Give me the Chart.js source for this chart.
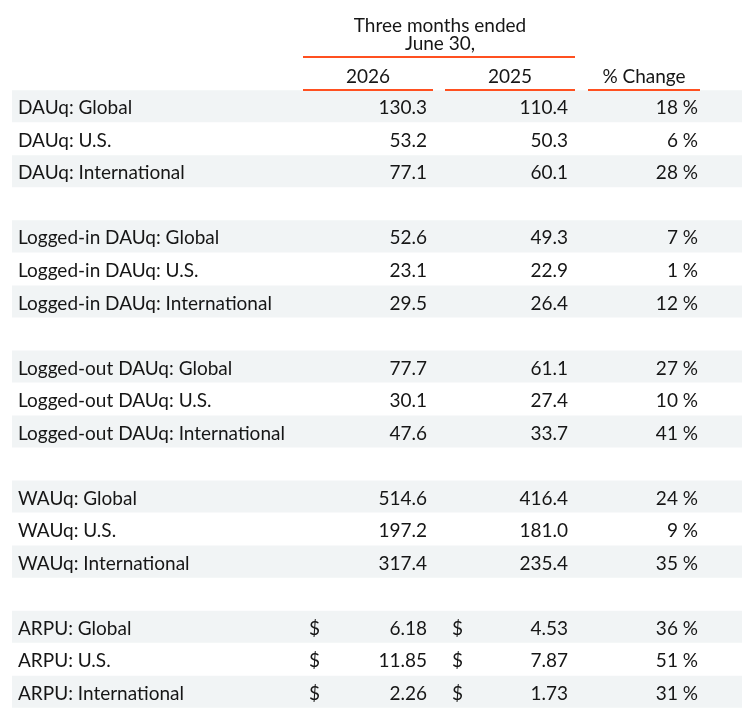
<!DOCTYPE html>
<html>
<head>
<meta charset="utf-8">
<script src="https://cdn.jsdelivr.net/npm/chart.js@4/dist/chart.umd.min.js"></script>
<style>
  html, body { margin: 0; padding: 0; background: #fff; }
  #wrap { position: relative; width: 742px; height: 725px; }
</style>
</head>
<body>
<div id="wrap"><canvas id="metrics_table"></canvas></div>
<script>
// rows of the table, blank strings are the spacer rows between groups
const rowLabels = [
  'DAUq: Global', 'DAUq: U.S.', 'DAUq: International', '',
  'Logged-in DAUq: Global', 'Logged-in DAUq: U.S.', 'Logged-in DAUq: International', '',
  'Logged-out DAUq: Global', 'Logged-out DAUq: U.S.', 'Logged-out DAUq: International', '',
  'WAUq: Global', 'WAUq: U.S.', 'WAUq: International', '',
  'ARPU: Global', 'ARPU: U.S.', 'ARPU: International'
]
const values2026 = [130.3, 53.2, 77.1, null, 52.6, 23.1, 29.5, null, 77.7, 30.1, 47.6, null, 514.6, 197.2, 317.4, null, 6.18, 11.85, 2.26]
const values2025 = [110.4, 50.3, 60.1, null, 49.3, 22.9, 26.4, null, 61.1, 27.4, 33.7, null, 416.4, 181.0, 235.4, null, 4.53, 7.87, 1.73]
const pctChange = [18, 6, 28, null, 7, 1, 12, null, 27, 10, 41, null, 24, 9, 35, null, 36, 51, 31]
const dollarRows = ['ARPU: Global', 'ARPU: U.S.', 'ARPU: International']
const columnHeaders = ['2026', '2025', '% Change']
const periodHeader = ['Three months ended', 'June 30,']

const FONT = '"Lato", "Noto Sans", sans-serif'
const INK = '#161616'
const ORANGE = '#ff5020'
const BAND = '#f1f4f5'

// the x scale runs 0..742 so columns are placed on it
const COL = {
  label: 18, dollar1: 309, val1: 427, dollar2: 452, val2: 568, pct: 698,
  line1: [303, 433], line2: [445, 575], line3: [588, 700], period: [303, 575]
}

// shaded rows: Global and International of every group
const bandData = rowLabels.map(function (l) {
  return (/Global|International/).test(l) ? [12, 742] : null
})

function fmt(v, label) {
  if (v === null) return ''
  return dollarRows.indexOf(label) >= 0 ? v.toFixed(2) : v.toFixed(1)
}

const tablePlugin = {
  id: 'tableText',
  afterDatasetsDraw(chart) {
    const ctx = chart.ctx
    const x = chart.scales.x
    const y = chart.scales.y
    const px = function (v) { return x.getPixelForValue(v) }
    ctx.save()
    ctx.fillStyle = INK
    ctx.font = '19px ' + FONT
    ctx.textBaseline = 'middle'

    rowLabels.forEach(function (label, i) {
      if (!label) return
      const yy = y.getPixelForValue(i) + 2
      ctx.textAlign = 'left'
      ctx.fillText(label, px(COL.label), yy)
      if (dollarRows.indexOf(label) >= 0) {
        ctx.fillText('$', px(COL.dollar1), yy)
        ctx.fillText('$', px(COL.dollar2), yy)
      }
      ctx.textAlign = 'right'
      ctx.fillText(fmt(values2026[i], label), px(COL.val1), yy)
      ctx.fillText(fmt(values2025[i], label), px(COL.val2), yy)
      ctx.fillText(pctChange[i] + ' %', px(COL.pct), yy)
    })

    // header
    const top = chart.chartArea.top
    ctx.textAlign = 'center'
    const pc = (px(COL.period[0]) + px(COL.period[1])) / 2 + 1
    ctx.fillText(periodHeader[0], pc, top - 64)
    ctx.fillText(periodHeader[1], pc, top - 46)
    const lines = [COL.line1, COL.line2, COL.line3]
    lines.forEach(function (ln, k) {
      ctx.fillText(columnHeaders[k], (px(ln[0]) + px(ln[1])) / 2, top - 13)
    })

    ctx.strokeStyle = ORANGE
    ctx.lineWidth = 2
    ctx.beginPath()
    ctx.moveTo(px(COL.period[0]), top - 33)
    ctx.lineTo(px(COL.period[1]), top - 33)
    lines.forEach(function (ln) {
      ctx.moveTo(px(ln[0]), top)
      ctx.lineTo(px(ln[1]), top)
    })
    ctx.stroke()
    ctx.restore()
  }
}

new Chart(document.getElementById('metrics_table'), {
  type: 'bar',
  data: {
    labels: rowLabels,
    datasets: [{
      data: bandData,
      backgroundColor: BAND,
      borderWidth: 0,
      barPercentage: 1,
      categoryPercentage: 0.985
    }]
  },
  options: {
    indexAxis: 'y',
    responsive: true,
    maintainAspectRatio: false,
    animation: false,
    layout: { padding: { top: 90, bottom: 17, left: 0, right: 0 } },
    plugins: { legend: { display: false }, tooltip: { enabled: false } },
    scales: {
      x: { type: 'linear', min: 0, max: 742, display: false },
      y: { display: false }
    }
  },
  plugins: [tablePlugin]
})
</script>
</body>
</html>
